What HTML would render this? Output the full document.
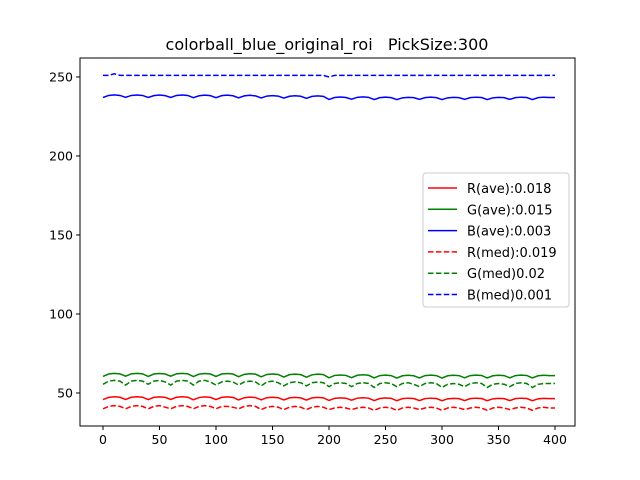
<!DOCTYPE html>
<html><head><meta charset="utf-8"><style>
body{margin:0;background:#fff}
svg{display:block;font-family:"DejaVu Sans","Liberation Sans",sans-serif}
</style></head><body>
<svg id="chart" width="640" height="480">
<rect x="0" y="0" width="640" height="480" fill="#fff"/>
<text x="327" y="50" text-anchor="middle" font-size="16" style="white-space:pre" xml:space="preserve">colorball_blue_original_roi   PickSize:300</text>
<g id="series"></g>
<g id="axes"></g>
<g id="legend"></g>
</svg>
<script>
const xStep = 5;
const rAve = [45.8,47.2,47.6,47.3, 45.9,47.3,47.6,47.3, 45.8,47.2,47.5,47.2, 45.9,47.3,47.6,47.3, 45.7,47.1,47.5,47.2, 45.8,47.2,47.5,47.2, 45.6,47.0,47.4,47.1, 45.7,47.0,47.3,47.0, 45.6,46.9,47.2,46.9, 45.5,46.9,47.2,46.9, 45.3,46.6,46.9,46.7, 45.4,46.7,47.0,46.7, 45.2,46.5,46.8,46.6, 45.1,46.4,46.7,46.5, 45.2,46.4,46.7,46.5, 45.1,46.3,46.6,46.4, 45.2,46.4,46.7,46.5, 45.1,46.3,46.6,46.4, 45.2,46.4,46.7,46.5, 45.1,46.3,46.6,46.4, 46.4];
const gAve = [60.5,62.0,62.4,62.1, 60.6,62.1,62.4,62.1, 60.5,62.0,62.3,62.0, 60.6,62.1,62.4,62.1, 60.4,61.9,62.3,62.0, 60.5,62.0,62.3,62.0, 60.3,61.8,62.2,61.9, 60.2,61.7,62.0,61.7, 60.1,61.6,61.9,61.6, 60.0,61.5,61.9,61.6, 59.6,61.1,61.4,61.1, 59.7,61.2,61.5,61.2, 59.5,61.0,61.3,61.0, 59.4,60.9,61.2,60.9, 59.5,61.0,61.3,61.0, 59.4,60.9,61.2,61.0, 59.6,61.0,61.3,61.1, 59.5,60.9,61.2,61.0, 59.6,61.0,61.3,61.1, 59.5,60.9,61.2,61.0, 61.0];
const bAve = [237.0,238.3,238.7,238.3, 237.1,238.3,238.6,238.3, 237.0,238.2,238.6,238.2, 237.0,238.3,238.6,238.3, 236.9,238.1,238.5,238.2, 236.9,238.2,238.5,238.1, 236.8,238.0,238.4,238.0, 236.7,237.9,238.2,237.9, 236.6,237.8,238.1,237.8, 236.5,237.7,238.0,237.7, 235.8,237.0,237.3,237.0, 235.9,237.1,237.4,237.1, 235.7,236.9,237.2,236.9, 235.7,236.8,237.1,236.9, 235.8,236.9,237.2,236.9, 235.7,236.8,237.1,236.9, 235.8,236.9,237.2,237.0, 235.7,236.8,237.1,236.9, 235.8,236.9,237.2,237.0, 235.7,236.9,237.2,237.0, 237.0];
const rMed = [40.0,41.5,42.0,41.5, 40.0,41.5,42.0,41.5, 40.0,41.5,42.0,41.0, 40.0,41.5,42.0,41.5, 40.0,41.5,42.0,41.5, 40.0,41.5,41.5,41.0, 40.0,41.5,42.0,41.5, 39.5,41.0,41.5,41.0, 39.5,41.0,41.5,41.0, 39.5,41.0,41.5,41.0, 39.5,40.5,41.0,40.5, 39.5,40.5,41.0,40.5, 39.0,40.5,41.0,40.5, 39.0,40.5,41.0,40.5, 39.5,40.5,41.0,40.5, 39.0,40.5,41.0,40.5, 39.5,40.5,41.0,40.5, 39.0,40.5,41.0,40.5, 39.5,40.5,41.0,40.5, 39.0,40.5,41.0,40.5, 40.5];
const gMed = [55.5,57.5,58.0,57.5, 55.0,57.5,58.0,57.5, 55.5,57.5,58.0,57.0, 55.0,57.5,58.0,57.5, 55.0,57.5,58.0,57.0, 55.0,57.0,57.5,57.0, 55.0,57.0,57.5,57.0, 54.5,57.0,57.5,56.5, 54.5,56.5,57.0,56.5, 54.5,56.5,57.0,56.5, 54.0,56.0,56.5,56.0, 54.0,56.0,56.5,56.0, 53.5,56.0,56.5,56.0, 54.0,56.0,56.5,55.5, 54.0,56.0,56.5,56.0, 53.5,55.5,56.0,55.5, 54.0,56.0,56.5,56.0, 53.5,55.5,56.0,55.5, 54.0,56.0,56.5,56.0, 53.5,55.5,56.0,56.0, 56.0];
const bMed = [251,251,252,251, 251,251,251,251, 251,251,251,251, 251,251,251,251, 251,251,251,251, 251,251,251,251, 251,251,251,251, 251,251,251,251, 251,251,251,251, 251,251,251,251, 250,251,251,251, 251,251,251,251, 251,251,251,251, 251,251,251,251, 251,251,251,251, 251,251,251,251, 251,251,251,251, 251,251,251,251, 251,251,251,251, 251,251,251,251, 251];
const xTicks = [0,50,100,150,200,250,300,350,400];
const yTicks = [50,100,150,200,250];
const legendLabels = ["R(ave):0.018","G(ave):0.015","B(ave):0.003","R(med):0.019","G(med)0.02","B(med)0.001"];

const L=80,R=575,T=58,B=426, xMin=-20.35,xMax=417.7,yMin=29.1,yMax=262;
const xs=v=>L+(v-xMin)/(xMax-xMin)*(R-L);
const ys=v=>B-(v-yMin)/(yMax-yMin)*(B-T);
const NS="http://www.w3.org/2000/svg";
function mk(tag,attrs,parent){const e=document.createElementNS(NS,tag);for(const k in attrs)e.setAttribute(k,attrs[k]);parent.appendChild(e);return e;}
const sg=document.getElementById('series');
const defs=[[rAve,'red',false,'r-ave-line'],[gAve,'green',false,'g-ave-line'],[bAve,'blue',false,'b-ave-line'],[rMed,'red',true,'r-med-line'],[gMed,'green',true,'g-med-line'],[bMed,'blue',true,'b-med-line']];
defs.forEach(d=>{
  const pts=d[0].map((v,i)=>xs(i*xStep).toFixed(2)+','+ys(v).toFixed(2)).join(' ');
  const p=mk('polyline',{points:pts,fill:'none',stroke:d[1],'stroke-width':1.5},sg);
  if(d[2])p.setAttribute('stroke-dasharray','5.5,2.4');
  
  
});
const ax=document.getElementById('axes');
const frame=mk('rect',{x:L,y:T,width:R-L,height:B-T,fill:'none',stroke:'#000','stroke-width':1},ax);


xTicks.forEach(t=>{
  const x=xs(t);
  mk('line',{x1:x,x2:x,y1:B,y2:B+4,stroke:'#000'},ax);
  const tx=mk('text',{x:x,y:B+18,'text-anchor':'middle','font-size':12.5},ax);
  tx.textContent=t;
  
  
});
yTicks.forEach(t=>{
  const y=ys(t);
  mk('line',{x1:L-4,x2:L,y1:y,y2:y,stroke:'#000'},ax);
  const tx=mk('text',{x:L-7,y:y+4.5,'text-anchor':'end','font-size':12.5},ax);
  tx.textContent=t;
  
  
});
const lg=document.getElementById('legend');
const box=mk('rect',{x:423,y:173,width:146,height:134,rx:3,fill:'#fff','fill-opacity':0.8,stroke:'#ccc'},lg);


legendLabels.forEach((lab,i)=>{
  const y=188+i*21.3;
  const ln=mk('line',{x1:428,x2:457,y1:y,y2:y,stroke:defs[i][1],'stroke-width':1.5},lg);
  if(defs[i][2])ln.setAttribute('stroke-dasharray','5.5,2.4');
  const tx=mk('text',{x:467,y:y+5,'font-size':13},lg);
  tx.textContent=lab;
  
  
});
</script>
</body></html>
